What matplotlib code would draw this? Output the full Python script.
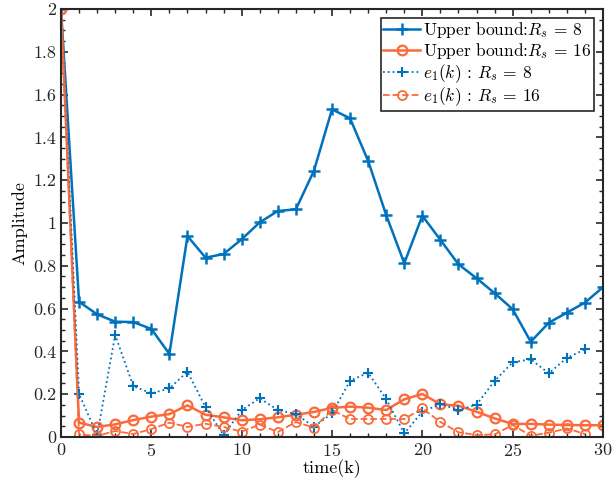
import numpy as np
import matplotlib
matplotlib.use("Agg")
import matplotlib.pyplot as plt
from matplotlib.ticker import MultipleLocator

plt.rcParams['font.family'] = 'cmr10'
plt.rcParams['mathtext.fontset'] = 'cm'
plt.rcParams['axes.formatter.use_mathtext'] = True

# time steps
k = np.arange(0, 31)

# upper bound, R_s = 8
ub_8 = [2.0, 0.632, 0.573, 0.539, 0.537, 0.505, 0.388, 0.939, 0.838, 0.855,
        0.924, 1.003, 1.056, 1.064, 1.244, 1.531, 1.489, 1.29, 1.037, 0.812,
        1.034, 0.921, 0.807, 0.742, 0.672, 0.597, 0.445, 0.534, 0.581, 0.628,
        0.70]
# upper bound, R_s = 16
ub_16 = [2.0, 0.067, 0.047, 0.059, 0.079, 0.095, 0.107, 0.148, 0.104, 0.092,
         0.078, 0.083, 0.092, 0.104, 0.117, 0.136, 0.142, 0.137, 0.126, 0.176,
         0.201, 0.153, 0.146, 0.118, 0.087, 0.061, 0.061, 0.058, 0.056, 0.055,
         0.055]
# e1(k), R_s = 8  (k = 0..29)
e1_8 = [2.0, 0.201, 0.009, 0.477, 0.238, 0.204, 0.227, 0.305, 0.139, 0.009,
        0.126, 0.181, 0.126, 0.107, 0.048, 0.11, 0.263, 0.30, 0.177, 0.017,
        0.118, 0.154, 0.126, 0.151, 0.262, 0.349, 0.363, 0.298, 0.369, 0.41]
# e1(k), R_s = 16  (k = 0..29)
e1_16 = [2.0, 0.012, 0.005, 0.028, 0.014, 0.037, 0.067, 0.047, 0.062, 0.047,
         0.025, 0.058, 0.023, 0.07, 0.044, 0.126, 0.084, 0.084, 0.084, 0.084,
         0.134, 0.07, 0.022, 0.009, 0.012, 0.056, 0.006, 0.02, 0.04, 0.014]

blue = '#0072BD'
orange = '#FA6A3A'

fig = plt.figure(figsize=(6.13, 4.79), dpi=100)
ax = fig.add_axes([0.0995, 0.0877, 0.8842, 0.8935])

ax.plot(k, ub_8, '-', color=blue, lw=1.8, marker='+', ms=9, mew=1.8,
        label=r'Upper bound:$R_s$ = 8')
ax.plot(k, ub_16, '-', color=orange, lw=1.8, marker='o', ms=7, mew=1.6,
        mfc='none', label=r'Upper bound:$R_s$ = 16')
ax.plot(k[:30], e1_8, ':', color=blue, lw=1.3, marker='+', ms=7, mew=1.5,
        label=r'$e_1(k)$ : $R_s$ = 8')
ax.plot(k[:30], e1_16, '--', color=orange, lw=1.3, marker='o', ms=6.5,
        mew=1.3, mfc='none', label=r'$e_1(k)$ : $R_s$ = 16')

ax.set_xlim(0, 30)
ax.set_ylim(0, 2)
ax.xaxis.set_major_locator(MultipleLocator(5))
ax.xaxis.set_minor_locator(MultipleLocator(1))
ax.yaxis.set_major_locator(MultipleLocator(0.2))
ax.yaxis.set_minor_locator(MultipleLocator(0.05))
ax.yaxis.set_major_formatter(plt.FuncFormatter(lambda v, p: f'{v:g}'))
ax.tick_params(which='both', direction='in', top=True, right=True,
               labelsize=13, colors='#262626', labelcolor='#262626')
ax.tick_params(which='major', length=5, width=1.2)
ax.tick_params(which='minor', length=3, width=1.0)
for s in ax.spines.values():
    s.set_linewidth(1.5)
    s.set_color('#262626')

ax.set_xlabel('time(k)', fontsize=13, labelpad=0)
ax.set_ylabel('Amplitude', fontsize=13, labelpad=4)

leg = ax.legend(loc='upper right', fontsize=12.5, fancybox=False, framealpha=1,
                edgecolor='#262626', handlelength=2.1, handletextpad=0.2,
                borderpad=0.15, labelspacing=0.05, borderaxespad=0.5)
leg.get_frame().set_linewidth(1.2)

fig.savefig('out.png', dpi=100)
